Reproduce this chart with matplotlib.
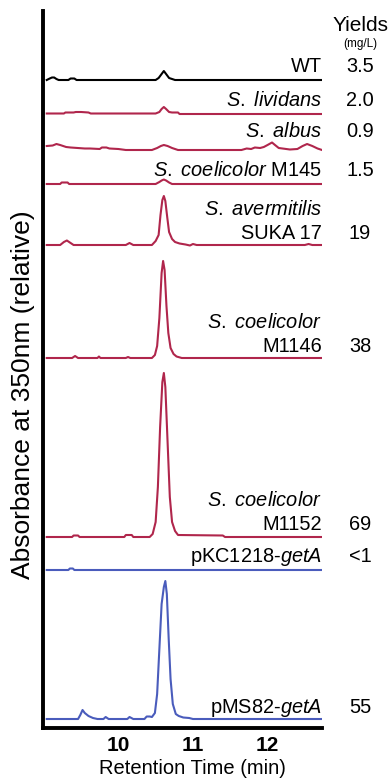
import matplotlib
matplotlib.use('Agg')
import matplotlib.pyplot as plt
import matplotlib.transforms as mtransforms

plt.rcParams['font.family'] = 'Liberation Sans'
plt.rcParams['mathtext.fontset'] = 'custom'
plt.rcParams['mathtext.rm'] = 'Liberation Sans'
plt.rcParams['mathtext.it'] = 'Liberation Sans:italic'

# retention time (min) and relative absorbance at 350nm, one pair per strain
wt_t = [9.04, 9.08, 9.11, 9.14, 9.17, 9.2, 9.33, 9.36, 9.41, 9.44, 10.5, 10.54, 10.58, 10.61, 10.64, 10.68, 10.72, 10.76, 12.73]
wt_a = [0, 1.5, 2.5, 2.5, 1, 0, 0, 1.5, 1.5, 0, 0, 2, 6, 9, 6, 2, 1, 0, 0]

liv_t = [9.04, 9.27, 9.29, 9.40, 9.43, 9.5, 9.6, 9.63, 10.5, 10.55, 10.58, 10.61, 10.64, 10.68, 10.72, 10.8, 10.82, 12.73]
liv_a = [0.5, 0.5, 1.5, 1.5, 2, 2, 1.5, 0.5, 0.5, 2, 5, 7, 5, 2, 1.5, 1.5, 0, 0]

alb_t = [9.04, 9.12, 9.17, 9.22, 9.3, 9.36, 9.55, 9.62, 9.75, 9.78, 9.84, 9.88, 10.0, 10.1, 10.45, 10.52, 10.57, 10.61,
         10.66, 10.72, 10.8, 11.65, 11.72, 11.78, 11.83, 11.9, 11.95, 12.0, 12.06, 12.1, 12.15, 12.3, 12.4, 12.47, 12.53,
         12.6, 12.67, 12.73]
alb_a = [4, 4.5, 6, 5, 3, 2.5, 1.5, 1.5, 1, 2.5, 2.5, 1.5, 1, 0, 0, 2, 4, 5,
         4, 2, 0, 0, 1.5, 1, 2.5, 2, 3, 5, 7.5, 5, 2, 0.5, 1, 4, 6,
         4, 1.5, 0]

m145_t = [9.04, 9.22, 9.24, 9.32, 9.34, 10.5, 10.55, 10.58, 10.61, 10.64, 10.68, 10.72, 12.73]
m145_a = [0, 0, 1.5, 1.5, 0, 0, 2, 3.5, 4.5, 3.5, 1.5, 0, 0]

suka_t = [9.04, 9.22, 9.27, 9.31, 9.35, 9.4, 10.1, 10.15, 10.2, 10.45, 10.5, 10.54, 10.565, 10.59, 10.61, 10.63, 10.655,
          10.68, 10.72, 10.76, 10.82, 10.9, 10.96, 11.0, 11.05, 11.1, 12.5, 12.55, 12.6, 12.73]
suka_a = [0, 0, 3, 4.5, 2.5, 0, 0, 2, 0, 0, 4, 10, 30, 45, 49, 44, 28,
          13, 6, 3, 1.5, 0.5, -0.5, 1, 0, 0, 0, 1, 0, 0]

m1146_t = [9.04, 9.38, 9.42, 9.46, 9.72, 9.74, 9.76, 10.1, 10.13, 10.16, 10.45, 10.49, 10.52, 10.55, 10.58, 10.6,
           10.62, 10.645, 10.67, 10.7, 10.74, 10.78, 10.85, 12.73]
m1146_a = [0, 0, 2, 0, 0, 1.5, 0, 0, 1, 0, 0, 3, 12, 40, 85, 97,
           88, 52, 25, 10, 4, 1.5, 0, 0]

m1152_t = [9.04, 9.38, 9.4, 9.46, 9.48, 10.08, 10.1, 10.18, 10.2, 10.42, 10.46, 10.5, 10.53, 10.56, 10.59, 10.61,
           10.63, 10.66, 10.69, 10.72, 10.76, 10.8, 11.4, 11.43, 12.73]
m1152_a = [0, 0, 1.5, 1.5, 0, 0, 2, 2, 0, 0, 3, 15, 50, 110, 155, 164,
           150, 95, 40, 15, 6, 2, 1.5, 0, 0]

pkc_t = [9.04, 9.33, 9.35, 9.39, 9.41, 12.73]
pkc_a = [0, 0, 1.5, 1.5, 0, 0]

pms_t = [9.04, 9.46, 9.49, 9.52, 9.55, 9.6, 9.66, 9.72, 9.8, 9.83, 9.87, 10.12, 10.15, 10.2, 10.35, 10.38, 10.42,
         10.45, 10.49, 10.52, 10.55, 10.58, 10.61, 10.63, 10.65, 10.675, 10.7, 10.73, 10.77, 10.81, 10.87, 10.95, 11.0, 12.73]
pms_a = [0, 0, 4, 9, 6, 3, 1, 0, 0, 2, 0, 0, 2, 0, 0, 2.5, 2.5,
         2, 6, 25, 70, 115, 132, 138, 125, 80, 40, 15, 5, 3, 1.5, 1, 0, 0]

strains = ['WT', r'$\mathit{S.\ lividans}$', r'$\mathit{S.\ albus}$', r'$\mathit{S.\ coelicolor}$ M145',
           '$\\mathit{S.\\ avermitilis}$\nSUKA 17', '$\\mathit{S.\\ coelicolor}$\nM1146',
           '$\\mathit{S.\\ coelicolor}$\nM1152', r'pKC1218-$\mathit{getA}$', r'pMS82-$\mathit{getA}$']
yields = ['3.5', '2.0', '0.9', '1.5', '19', '38', '69', '<1', '55']

traces = [(wt_t, wt_a), (liv_t, liv_a), (alb_t, alb_a), (m145_t, m145_a), (suka_t, suka_a),
          (m1146_t, m1146_a), (m1152_t, m1152_a), (pkc_t, pkc_a), (pms_t, pms_a)]

# layout: stacking offset of each trace and how far its label sits above it
offsets = [648, 614, 578, 544, 483, 370, 191, 158, 9]
label_lift = [8, 8, 13, 8, 6, 6, 7, 8, 6]
colors = ['black', '#b0264c', '#b0264c', '#b0264c', '#b0264c', '#b0264c', '#b0264c', '#4a5cbc', '#4a5cbc']

W, H = 391, 779
fig = plt.figure(figsize=(W / 100, H / 100), dpi=100)
ax = fig.add_axes([43 / W, 1 - 728 / H, 279 / W, 717 / H])

for (t, a), off, c in zip(traces, offsets, colors):
    ax.plot(t, [v + off for v in a], color=c, lw=1.5, solid_joinstyle='round')

ax.set_xlim(8.99, 12.73)
ax.set_ylim(0, 717)
ax.set_yticks([])
ax.set_xticks([10, 11, 12])
ax.tick_params(axis='x', length=0, pad=6, labelsize=15)
for lab in ax.get_xticklabels():
    lab.set_fontweight('bold')
for s in ['top', 'right']:
    ax.spines[s].set_visible(False)
for s in ['left', 'bottom']:
    ax.spines[s].set_linewidth(2.8)

right = mtransforms.blended_transform_factory(ax.transAxes, ax.transData)
ycol = mtransforms.blended_transform_factory(fig.transFigure, ax.transData)
fs = 14.4
for name, y, off, lift in zip(strains, yields, offsets, label_lift):
    base = off + lift
    lines = name.split('\n')
    for i, line in enumerate(reversed(lines)):
        ax.text(1.0, base + i * 24, line, transform=right, ha='right', va='baseline', fontsize=fs, clip_on=False)
    ax.text(360 / W, base, y, transform=ycol, ha='center', va='baseline', fontsize=fs, clip_on=False)

ax.text(360.5 / W, 728 - 31, 'Yields', transform=ycol, ha='center', va='baseline', fontsize=15, clip_on=False)
ax.text(360.5 / W, 728 - 47, '(mg/L)', transform=ycol, ha='center', va='baseline', fontsize=8.5, clip_on=False)

ax.set_xlabel('Retention Time (min)', fontsize=14.5, va='center')
ax.xaxis.set_label_coords((192 - 43) / 279, (728 - 769) / 717)
ax.set_ylabel('Absorbance at 350nm (relative)', fontsize=19, va='center')
ax.yaxis.set_label_coords((23 - 43) / 279, (728 - 395) / 717)

plt.savefig('out.png', dpi=100)
